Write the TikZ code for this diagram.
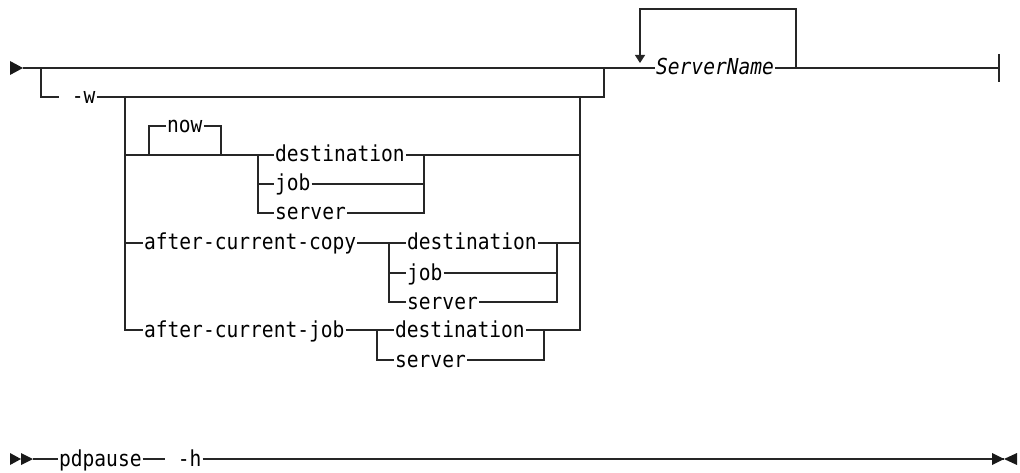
\documentclass[tikz,border=0pt]{standalone}
\usepackage{fontspec}
\usepackage{tikz}
\usetikzlibrary{arrows.meta,positioning}
\newfontfamily\rrfont[FakeStretch=0.89]{DejaVu Sans Mono}

\begin{document}
\begin{tikzpicture}[x=1pt, y=-1pt, line width=1.2pt, draw=black!85, fill=black!90,
  kw/.style={font=\rrfont\fontsize{22}{24}\selectfont, inner xsep=0.5pt, inner ysep=0pt,
    text height=14pt, text depth=0pt, anchor=west},
  var/.style={kw, font=\rrfont\itshape\fontsize{22}{24}\selectfont}]
\useasboundingbox (0,0) rectangle (1020,473);

% top line
\coordinate (s0) at (23,68);
\coordinate (bw) at (41,68);
\coordinate (jw) at (604,68);
\coordinate (lpL) at (640,68);
\coordinate (lpR) at (796,68);
\coordinate (lptop) at (640,9);
\coordinate (stop) at (999,68);
\node[var] (srvname) at (655,68) {ServerName};

\fill (10,61) -- (s0) -- (10,75) -- cycle;
\draw (s0) -- (srvname.west);
\draw (srvname.east) -- (stop);
\draw ([yshift=14pt]stop) -- ([yshift=-14pt]stop);
\draw [-{Triangle[length=8pt,width=10pt]}] (lpR) |- (lptop) -- ([yshift=5pt]lpL);

% -w option
\node[kw] (optw) at (59,97) {\ -w};
\coordinate (wR) at (604,97);
\draw (bw) |- (optw.west);
\draw (optw.east) -- (wR) -- (jw);

\coordinate (cL) at (125,97);
\coordinate (cR) at (580,97);

% now / destination / job / server
\node[kw] (now) at (166,126) {now};
\coordinate (nowL) at (149,155);
\coordinate (nowR) at (221,155);
\node[kw] (dest1) at (274,155) {destination};
\node[kw] (job1) at (274,184) {job};
\node[kw] (serv1) at (274,213) {server};
\coordinate (s1L) at (258,155);
\coordinate (s1R) at (424,155);

\draw (nowL) |- (now.west);
\draw (now.east) -| (nowR);
\draw (cL |- dest1) -- (dest1.west);
\draw (s1L) |- (serv1.west);
\draw (s1L |- job1) -- (job1.west);
\draw (dest1.east) -- (s1R) -- (cR |- s1R);
\draw (job1.east) -| (s1R);
\draw (serv1.east) -| (s1R);

% after-current-copy
\node[kw] (acc) at (143,243) {after-current-copy};
\node[kw] (dest2) at (406,243) {destination};
\node[kw] (job2) at (406,273) {job};
\node[kw] (serv2) at (406,302) {server};
\coordinate (s2L) at (389,243);
\coordinate (s2R) at (557,243);

\draw (cL |- acc) -- (acc.west);
\draw (acc.east) -- (s2L) -- (dest2.west);
\draw (s2L) |- (serv2.west);
\draw (s2L |- job2) -- (job2.west);
\draw (dest2.east) -- (s2R) -- (cR |- s2R);
\draw (job2.east) -| (s2R);
\draw (serv2.east) -| (s2R);

% after-current-job
\node[kw] (acj) at (143,330) {after-current-job};
\node[kw] (dest3) at (394,330) {destination};
\node[kw] (serv3) at (394,360) {server};
\coordinate (s3L) at (377,330);
\coordinate (s3R) at (544,330);

\draw (cL) |- (acj.west);
\draw (acj.east) -- (s3L) -- (dest3.west);
\draw (s3L) |- (serv3.west);
\draw (dest3.east) -- (s3R);
\draw (serv3.east) -| (s3R);
\draw (cR) |- (s3R);

% pdpause -h
\coordinate (b0) at (33,459);
\coordinate (b1) at (1004,459);
\node[kw] (pdp) at (58,459) {pdpause};
\node[kw] (opth) at (165,459) {\ -h};

\fill (10,453) -- (21,459) -- (10,465) -- cycle;
\fill (21,453) -- (b0) -- (21,465) -- cycle;
\draw (b0) -- (pdp.west);
\draw (pdp.east) -- (opth.west);
\draw (opth.east) -- (b1);
\fill (992,453) -- (b1) -- (992,465) -- cycle;
\fill (1017,453) -- (b1) -- (1017,465) -- cycle;
\end{tikzpicture}
\end{document}
